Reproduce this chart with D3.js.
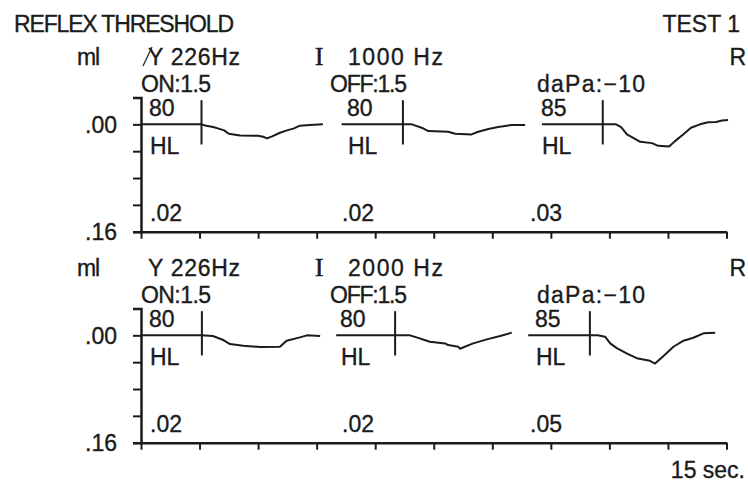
<!DOCTYPE html>
<html>
<head>
<meta charset="utf-8">
<script src="https://cdn.jsdelivr.net/npm/d3@7"></script>
<style>
  body { margin: 0; background: #fff; }
  svg text { font-family: "Liberation Sans Narrow", "Liberation Sans", sans-serif; font-size: 23px;
             fill: #1b1b1b; stroke: #1b1b1b; stroke-width: 0.35px; }
</style>
</head>
<body>
<svg id="chart" width="748" height="490"></svg>
<script>
const titleText = "REFLEX THRESHOLD";
const testLabel = "TEST 1";
const earLabel = "R";
const unitLabel = "ml";
const probeLabel = "Y 226Hz";
const stimFreqs = ["1000 Hz", "2000 Hz"];
const colHeaders = ["ON:1.5", "OFF:1.5", "daPa:\u221210"];
const stimLevels = [[80, 80, 85], [80, 80, 85]];
const reflexAmps = [[".02", ".02", ".03"], [".02", ".02", ".05"]];
const timeTicks = [0, 1.5, 3, 4.5, 6, 7.5, 9, 10.5, 12, 13.5, 15];
const mlTicks = [0, 0.04, 0.08, 0.12, 0.16];
const timeLabel = "15 sec.";

// stimulus onset (s) per panel / run
const onsets = [[1.55, 6.71, 11.83], [1.56, 6.51, 11.5]];

// compliance change (ml) vs time (s), 1000 Hz panel
const trace1kA = [[0,0],[1.55,0],[1.67,0.002],[1.85,0.004],[1.97,0.006],[2.13,0.009],[2.25,0.014],[2.54,0.0165],[3.0,0.017],[3.13,0.0185],[3.23,0.021],[3.36,0.018],[3.56,0.0125],[3.74,0.009],[3.92,0.006],[4.07,0.002],[4.33,0.001],[4.66,0]];
const trace1kB = [[5.14,0],[6.94,0],[7.19,0.005],[7.36,0.01],[7.87,0.011],[8.05,0.014],[8.47,0.015],[8.64,0.011],[8.9,0.007],[9.15,0.004],[9.5,0.001],[9.84,0.001]];
const trace1kC = [[10.27,0],[12.17,0],[12.3,0.004],[12.45,0.015],[12.61,0.02],[12.79,0.026],[13.09,0.028],[13.25,0.032],[13.53,0.033],[13.68,0.025],[13.89,0.015],[14.09,0.005],[14.32,0],[14.53,-0.003],[14.73,-0.0035],[14.89,-0.0057],[15.04,-0.0064]];
// 2000 Hz panel
const trace2kA = [[0,0],[1.56,0],[1.84,0.001],[2.11,0.007],[2.28,0.013],[2.62,0.0155],[3.05,0.0175],[3.56,0.017],[3.73,0.008],[4.07,0.003],[4.25,0],[4.59,0.001]];
const trace2kB = [[5.0,0],[6.89,0],[7.06,0.003],[7.4,0.0095],[7.79,0.012],[7.87,0.0145],[8.13,0.017],[8.17,0.02],[8.51,0.012],[8.86,0.006],[9.2,0.001],[9.5,-0.004]];
const trace2kC = [[9.92,0],[11.7,0],[11.89,0.002],[12.02,0.012],[12.19,0.019],[12.44,0.027],[12.7,0.034],[13.04,0.038],[13.17,0.042],[13.38,0.031],[13.64,0.017],[13.9,0.008],[14.15,0.0036],[14.41,-0.003],[14.71,-0.004]];

const traces = [[trace1kA, trace1kB, trace1kC], [trace2kA, trace2kB, trace2kC]];

// ---- layout ----
const ink = "#1b1b1b";
const panelTop = [0, 211];
const levelX = [[149, 347, 541], [149, 340, 535]];
const ampX = [[150, 342, 530], [150, 342, 530]];
const headX = [141, 330, 537];
const headW = [70, 77, 108];

const svg = d3.select("#chart");
svg.append("rect").attr("width", 748).attr("height", 490).attr("fill", "#fff");

const x = d3.scaleLinear().domain([0, 15]).range([141, 726.5]);
const y = d3.scaleLinear().domain([-0.04, 0.16]).range([97.5, 231.7]);

function label(g, str, px, py, opts = {}) {
  const t = g.append("text").attr("x", px).attr("y", py).text(str);
  if (opts.w) t.attr("textLength", opts.w).attr("lengthAdjust", "spacing");
  if (opts.anchor) t.attr("text-anchor", opts.anchor);
  if (opts.serif) t.style("font-family", "'Liberation Serif', serif").style("font-size", "25px")
    .style("stroke-width", "0.6px");
  return t;
}

// header
label(svg, titleText, 14, 32, { w: 220 });
label(svg, testLabel, 740, 32, { anchor: "end" });

const line = d3.line().x(d => x(d[0])).y(d => y(d[1]));

panelTop.forEach((py, p) => {
  const g = svg.append("g").attr("transform", `translate(0,${py})`);

  label(g, unitLabel, 77, 65, { w: 23 });
  label(g, probeLabel, 148, 65, { w: 92 });
  label(g, "I", 315, 65, { serif: true });
  label(g, stimFreqs[p], 348, 65, { w: 95 });
  label(g, earLabel, 746, 65, { anchor: "end" });
  colHeaders.forEach((h, i) => label(g, h, headX[i], 92, { w: headW[i] }));

  // y axis with top bracket
  const ya = g.append("g").attr("transform", `translate(${x(0)},0)`)
    .call(d3.axisLeft(y).tickValues(mlTicks).tickSize(8).tickSizeOuter(8)
      .tickPadding(16).tickFormat(d => (d === 0 ? ".00" : d === 0.16 ? ".16" : "")));
  ya.select(".domain").attr("stroke", ink).attr("stroke-width", 2.5);
  ya.selectAll(".tick line").attr("stroke", ink).attr("stroke-width", 2);
  ya.selectAll(".tick text").attr("font-size", 23).attr("fill", ink)
    .attr("font-family", "Liberation Sans Narrow").attr("dy", "0.36em");

  // x axis
  const xa = g.append("g").attr("transform", `translate(0,${y(0.16)})`)
    .call(d3.axisBottom(x).tickValues(timeTicks).tickSize(7).tickSizeOuter(0).tickFormat(""));
  xa.select(".domain").attr("stroke", ink).attr("stroke-width", 2.5);
  xa.selectAll(".tick line").attr("stroke", ink).attr("stroke-width", 2);

  // traces
  traces[p].forEach((tr, i) => {
    g.append("path").datum(tr).attr("d", line)
      .attr("fill", "none").attr("stroke", ink).attr("stroke-width", 2)
      .attr("stroke-linejoin", "round");
    g.append("line")
      .attr("x1", x(onsets[p][i])).attr("x2", x(onsets[p][i]))
      .attr("y1", y(-0.036)).attr("y2", y(0.03))
      .attr("stroke", ink).attr("stroke-width", 2);
    label(g, stimLevels[p][i], levelX[p][i], 116);
    label(g, "HL", levelX[p][i] + 1, 154);
    label(g, reflexAmps[p][i], ampX[p][i], 221);
  });
});

// pen mark across the first Y
svg.append("line").attr("x1", 143).attr("y1", 66).attr("x2", 152).attr("y2", 47)
  .attr("stroke", ink).attr("stroke-width", 1.2);

label(svg, timeLabel, 745, 478, { anchor: "end" });
</script>
</body>
</html>
